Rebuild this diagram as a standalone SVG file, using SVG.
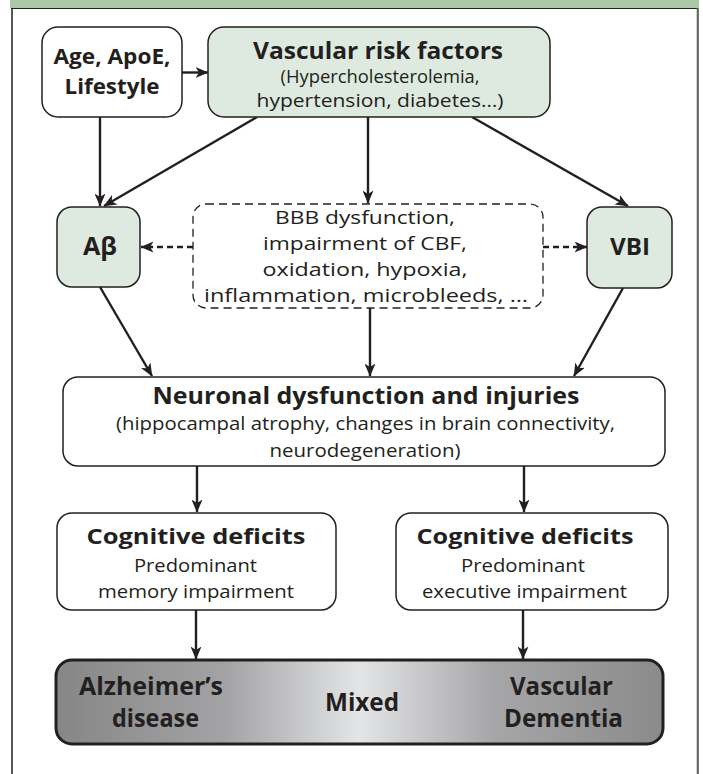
<svg xmlns="http://www.w3.org/2000/svg" width="703" height="774" viewBox="0 0 703 774">
<defs>
<style>
.box{fill:#fff;stroke:#231f20;stroke-width:1.5}
.grn{fill:#deeadf;stroke:#231f20;stroke-width:1.5}
.dash{fill:none;stroke:#231f20;stroke-width:1.3;stroke-dasharray:8 5}
.t{font-family:"Open Sans","Noto Sans",sans-serif;fill:#231f20;text-anchor:middle}
.b{font-weight:bold}
.r{font-size:19px}
.con{stroke:#231f20;stroke-width:2.4;fill:none}
.dcon{stroke:#231f20;stroke-width:2.4;fill:none;stroke-dasharray:6 4}
</style>
<marker id="ah" viewBox="0 0 13 11" refX="12.5" refY="5.5" markerWidth="13" markerHeight="11" markerUnits="userSpaceOnUse" orient="auto">
<path d="M0,0 L13,5.5 L0,11 L3.5,5.5 z" fill="#231f20"/>
</marker>
<linearGradient id="gg" x1="0" y1="0" x2="1" y2="0">
<stop offset="0" stop-color="#878687"/>
<stop offset="0.28" stop-color="#a3a3a5"/>
<stop offset="0.5" stop-color="#e4e5e6"/>
<stop offset="0.72" stop-color="#a6a6a8"/>
<stop offset="1" stop-color="#8b8a8b"/>
</linearGradient>
</defs>
<rect x="0" y="0" width="703" height="774" fill="#fff"/>
<rect x="10" y="0" width="689" height="8" fill="#abc8a7"/>
<line x1="12" y1="8" x2="12" y2="774" stroke="#231f20" stroke-width="1.5"/>
<line x1="11" y1="8.5" x2="697" y2="8.5" stroke="#231f20" stroke-width="1.2"/>
<line x1="697.8" y1="8" x2="697.8" y2="774" stroke="#666" stroke-width="2.2"/>

<g id="connectors">
<line class="con" x1="182" y1="72.5" x2="208" y2="72.5" marker-end="url(#ah)"/>
<line class="con" x1="100" y1="117" x2="100" y2="206" marker-end="url(#ah)"/>
<line class="con" x1="257" y1="117" x2="104" y2="206" marker-end="url(#ah)"/>
<line class="con" x1="368" y1="117" x2="368" y2="203" marker-end="url(#ah)"/>
<line class="con" x1="472" y1="117" x2="628" y2="206" marker-end="url(#ah)"/>
<line class="dcon" x1="193" y1="247" x2="141" y2="247" marker-end="url(#ah)"/>
<line class="dcon" x1="543" y1="247" x2="587" y2="247" marker-end="url(#ah)"/>
<line class="con" x1="100" y1="287" x2="152" y2="376" marker-end="url(#ah)"/>
<line class="con" x1="370" y1="308" x2="370" y2="376" marker-end="url(#ah)"/>
<line class="con" x1="623" y1="288" x2="574" y2="376" marker-end="url(#ah)"/>
<line class="con" x1="197" y1="466" x2="197" y2="512" marker-end="url(#ah)"/>
<line class="con" x1="524" y1="466" x2="524" y2="512" marker-end="url(#ah)"/>
<line class="con" x1="196" y1="610" x2="196" y2="659" marker-end="url(#ah)"/>
<line class="con" x1="523" y1="610" x2="523" y2="659" marker-end="url(#ah)"/>
</g>

<g id="age">
<rect class="box" x="42" y="27" width="140" height="90" rx="16"/>
<text class="t b" x="112" y="63.5" font-size="22" textLength="117" lengthAdjust="spacingAndGlyphs">Age, ApoE,</text>
<text class="t b" x="112" y="94" font-size="22" textLength="95" lengthAdjust="spacingAndGlyphs">Lifestyle</text>
</g>

<g id="vascular">
<rect class="grn" x="208" y="27" width="342" height="90" rx="16"/>
<text class="t b" x="378" y="58.5" font-size="23.5" textLength="250" lengthAdjust="spacingAndGlyphs">Vascular risk factors</text>
<text class="t" x="380" y="83" font-size="18" textLength="199" lengthAdjust="spacingAndGlyphs">(Hypercholesterolemia,</text>
<text class="t" x="380" y="106.5" font-size="18" textLength="247" lengthAdjust="spacingAndGlyphs">hypertension, diabetes…)</text>
</g>

<g id="abeta">
<rect class="grn" x="57" y="207" width="83" height="80" rx="15"/>
<text class="t b" x="100" y="255" font-size="25" textLength="34" lengthAdjust="spacingAndGlyphs">Aβ</text>
</g>

<g id="vbi">
<rect class="grn" x="587" y="207" width="85" height="81" rx="15"/>
<text class="t b" x="630" y="255" font-size="24" textLength="40" lengthAdjust="spacingAndGlyphs">VBI</text>
</g>

<g id="mechanisms">
<rect class="dash" x="193" y="204" width="350" height="104" rx="13"/>
<text class="t r" x="365" y="224" font-size="19.5" textLength="180" lengthAdjust="spacingAndGlyphs">BBB dysfunction,</text>
<text class="t r" x="365" y="250" font-size="19.5" textLength="204" lengthAdjust="spacingAndGlyphs">impairment of CBF,</text>
<text class="t r" x="365" y="276" font-size="19.5" textLength="205" lengthAdjust="spacingAndGlyphs">oxidation, hypoxia,</text>
<text class="t r" x="366" y="302" font-size="19.5" textLength="324" lengthAdjust="spacingAndGlyphs">inflammation, microbleeds, …</text>
</g>

<g id="neuronal">
<rect class="box" x="63" y="377" width="602" height="89" rx="15"/>
<text class="t b" x="366" y="404" font-size="23" textLength="427" lengthAdjust="spacingAndGlyphs">Neuronal dysfunction and injuries</text>
<text class="t r" x="365.5" y="430" textLength="499" lengthAdjust="spacingAndGlyphs">(hippocampal atrophy, changes in brain connectivity,</text>
<text class="t r" x="365" y="456.5" textLength="191" lengthAdjust="spacingAndGlyphs">neurodegeneration)</text>
</g>

<g id="cog-memory">
<rect class="box" x="57" y="513" width="279" height="97" rx="15"/>
<text class="t b" x="196" y="544" font-size="22" textLength="219" lengthAdjust="spacingAndGlyphs">Cognitive deficits</text>
<text class="t r" x="195.5" y="572" textLength="123" lengthAdjust="spacingAndGlyphs">Predominant</text>
<text class="t r" x="196" y="598" textLength="196" lengthAdjust="spacingAndGlyphs">memory impairment</text>
</g>

<g id="cog-exec">
<rect class="box" x="396" y="513" width="272" height="97" rx="15"/>
<text class="t b" x="525" y="544" font-size="22" textLength="217" lengthAdjust="spacingAndGlyphs">Cognitive deficits</text>
<text class="t r" x="523" y="572" textLength="124" lengthAdjust="spacingAndGlyphs">Predominant</text>
<text class="t r" x="524.5" y="598" textLength="205" lengthAdjust="spacingAndGlyphs">executive impairment</text>
</g>

<g id="outcomes">
<rect x="56" y="660" width="607" height="84" rx="16" fill="url(#gg)" stroke="#231f20" stroke-width="3"/>
<text class="t b" x="151" y="695" font-size="25" textLength="144" lengthAdjust="spacingAndGlyphs">Alzheimer’s</text>
<text class="t b" x="155.5" y="727" font-size="25" textLength="87" lengthAdjust="spacingAndGlyphs">disease</text>
<text class="t b" x="362" y="711" font-size="25" textLength="74" lengthAdjust="spacingAndGlyphs">Mixed</text>
<text class="t b" x="561.5" y="695" font-size="25" textLength="103" lengthAdjust="spacingAndGlyphs">Vascular</text>
<text class="t b" x="563.5" y="727" font-size="25" textLength="119" lengthAdjust="spacingAndGlyphs">Dementia</text>
</g>
</svg>
